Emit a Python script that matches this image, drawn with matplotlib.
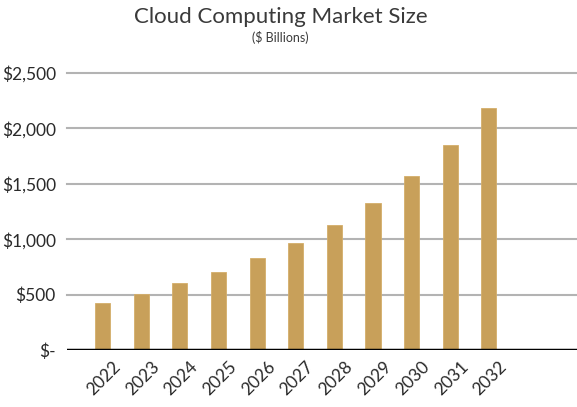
import matplotlib
matplotlib.use("Agg")
import matplotlib.pyplot as plt
import matplotlib.transforms as mtransforms

years = ["2022", "2023", "2024", "2025", "2026", "2027", "2028", "2029", "2030", "2031", "2032"]
market_size = [426, 507, 601, 705, 832, 970, 1132, 1327, 1572, 1851, 2185]
y_ticks = [0, 500, 1000, 1500, 2000, 2500]
y_tick_labels = ["$-", "$500", "$1,000", "$1,500", "$2,000", "$2,500"]

plt.rcParams['font.family'] = ['Lato', 'DejaVu Sans']

fig = plt.figure(figsize=(5.77, 4.07), dpi=100)
ax = fig.add_axes([0.116, 0.14, 0.884, 0.6806])

x = list(range(len(years)))
ax.bar(x, market_size, width=0.39, color="#C8A05A", edgecolor="#D4AE6A", linewidth=0.6, zorder=3)

ax.set_xlim(-0.92, 12.28)
ax.set_ylim(0, 2500)
ax.set_yticks(y_ticks)
ax.set_yticklabels(y_tick_labels, fontsize=12.5, color="#2a2a2a")
ax.set_xticks(x)
ax.set_xticklabels(years, rotation=45, ha="right", rotation_mode="anchor", fontsize=12.5, color="#2a2a2a")
ax.tick_params(axis="both", length=0)
ax.tick_params(axis="y", pad=8)
ax.tick_params(axis="x", pad=6)
offset = mtransforms.ScaledTranslation(10 / 100, 0, fig.dpi_scale_trans)
for lbl in ax.get_xticklabels():
    lbl.set_transform(lbl.get_transform() + offset)

for v in y_ticks[1:]:
    ax.axhline(v, color="#b3b3b3", linewidth=1.5, zorder=1, clip_on=False)
ax.axhline(0, color="black", linewidth=2.5, zorder=4)

for s in ax.spines.values():
    s.set_visible(False)

fig.text(0.486, 0.958, "Cloud Computing Market Size", ha="center", va="center", fontsize=16, color="#3a3a3a")
fig.text(0.486, 0.907, "($ Billions)", ha="center", va="center", fontsize=9, color="#3a3a3a")

fig.savefig("out.png", dpi=100)
